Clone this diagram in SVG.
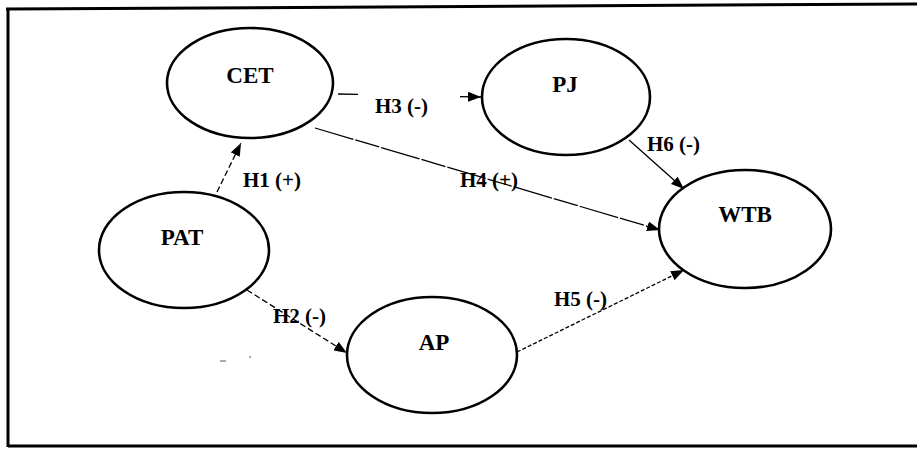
<svg xmlns="http://www.w3.org/2000/svg" width="917" height="449" viewBox="0 0 917 449">
  <style>
    .node ellipse { fill: #ffffff; stroke: #000000; stroke-width: 2.6; }
    .node text { font-family: "Liberation Serif", "Times New Roman", serif; font-weight: bold; font-size: 23px; fill: #000000; text-anchor: middle; }
    .edge { fill: none; stroke: #000000; stroke-width: 1.3; }
    .dash { stroke-dasharray: 6 3; }
    .dot { stroke-dasharray: 4 2; }
    .lbl { font-family: "Liberation Serif", "Times New Roman", serif; font-weight: bold; font-size: 21px; fill: #000000; }
    .frame { stroke: #000000; stroke-width: 3; fill: none; }
  </style>
  <defs>
    <marker id="arrow" markerUnits="userSpaceOnUse" markerWidth="14" markerHeight="10" refX="13" refY="5" orient="auto">
      <path d="M0,0 L13,5 L0,10 z" fill="#000000"/>
    </marker>
  </defs>

  <rect width="917" height="449" fill="#ffffff"/>

  <!-- outer frame (open on the right) -->
  <g id="frame">
    <path class="frame" d="M6,9 L917,4"/>
    <path class="frame" d="M8,8 L8,447"/>
    <path class="frame" d="M8,446 L917,446"/>
  </g>

  <!-- connectors -->
  <g id="connectors">
    <path class="edge dash" d="M217,192 L241,143" marker-end="url(#arrow)"/>
    <path class="edge" d="M338,94 L481,97" stroke-dasharray="20 102 22" marker-end="url(#arrow)"/>
    <path class="edge" d="M315,128 L660,230" stroke-width="1.1" stroke-dasharray="40 2 25 2" marker-end="url(#arrow)"/>
    <path class="edge" d="M629,140 L684,189" marker-end="url(#arrow)"/>
    <path class="edge dash" d="M247,290 L347,353" marker-end="url(#arrow)"/>
    <path class="edge dot" d="M517,352 L684,270" marker-end="url(#arrow)"/>
    <text class="lbl" x="243" y="187">H1 (+)</text>
    <text class="lbl" x="375" y="113">H3 (-)</text>
    <text class="lbl" x="460" y="187">H4 (+)</text>
    <text class="lbl" x="647" y="151">H6 (-)</text>
    <text class="lbl" x="273" y="323">H2 (-)</text>
    <text class="lbl" x="554" y="306">H5 (-)</text>
    <!-- stray marks -->
    <path d="M220,361 L226,361 M249,357 L251,357" stroke="#555555" stroke-width="1.2"/>
  </g>

  <g id="CET" class="node">
    <ellipse cx="250" cy="83" rx="83" ry="55"/>
    <text x="250" y="83">CET</text>
  </g>
  <g id="PJ" class="node">
    <ellipse cx="566" cy="97" rx="84" ry="58"/>
    <text x="565" y="92">PJ</text>
  </g>
  <g id="PAT" class="node">
    <ellipse cx="184" cy="250" rx="85" ry="58"/>
    <text x="182" y="245">PAT</text>
  </g>
  <g id="WTB" class="node">
    <ellipse cx="745" cy="229" rx="86" ry="59"/>
    <text x="745" y="222">WTB</text>
  </g>
  <g id="AP" class="node">
    <ellipse cx="432" cy="355" rx="85" ry="58"/>
    <text x="434" y="350">AP</text>
  </g>
</svg>
